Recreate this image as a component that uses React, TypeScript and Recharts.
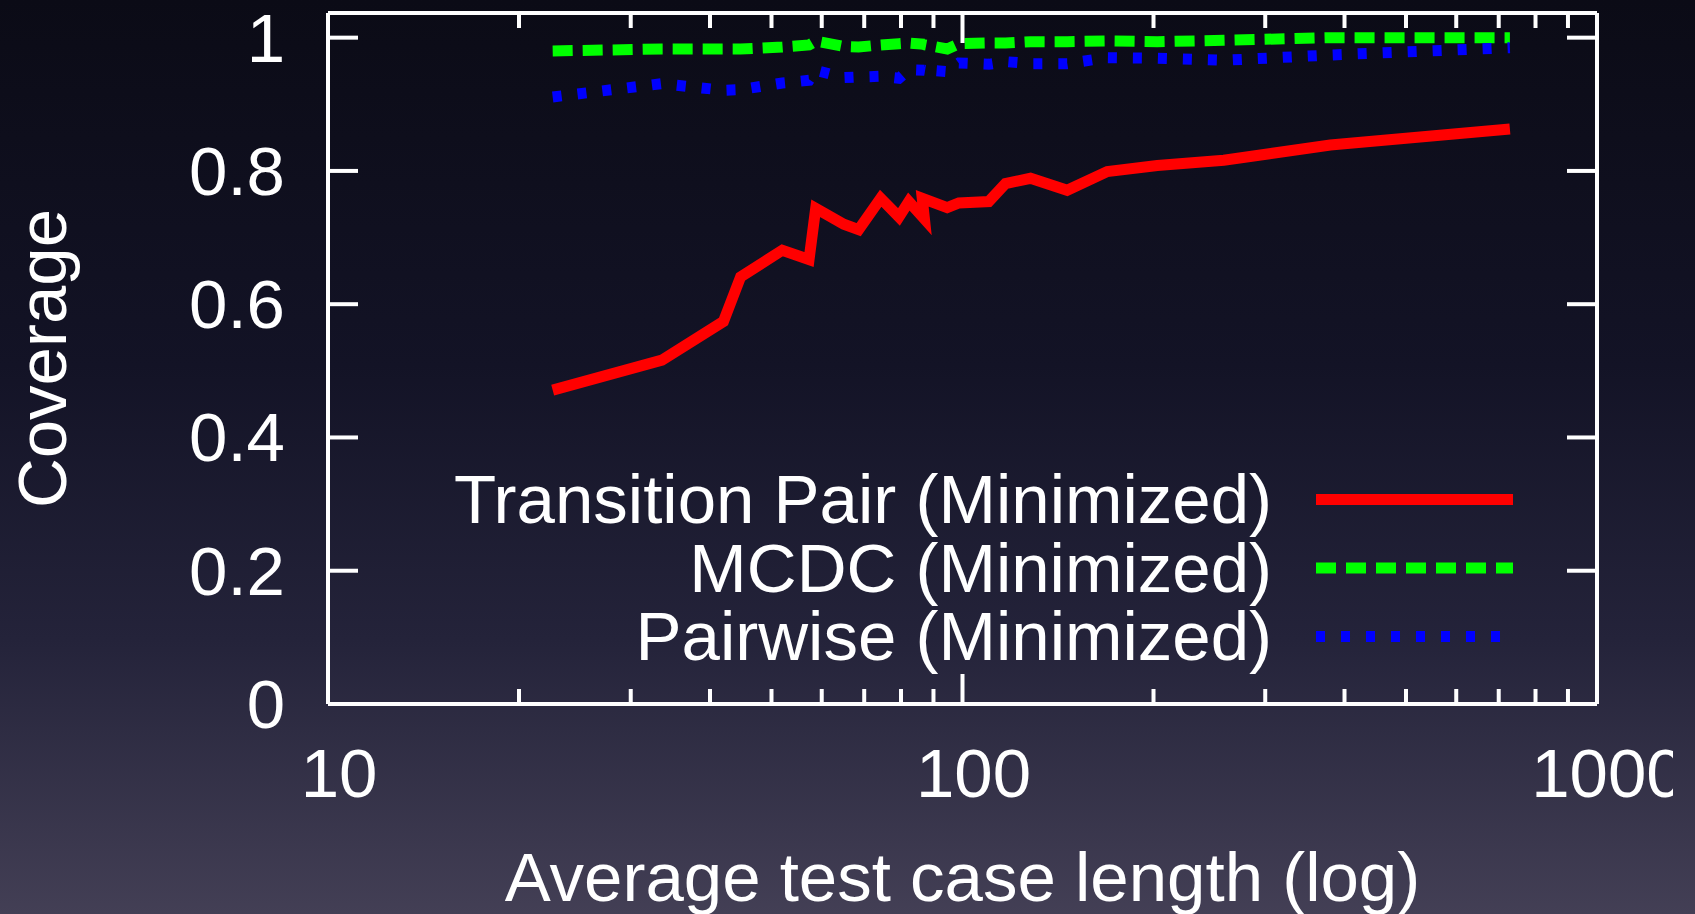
import React from "react";
import { LineChart, Line, XAxis, YAxis, Legend } from "recharts";

// average test case length (x, log scale)
const lengths = [
  22.6, 33.6, 42.0, 44.7, 52.0, 57.3, 58.7, 65.0, 68.6, 74.3, 79.4, 82.3, 87.1,
  86.4, 94.6, 98.7, 110, 116.9, 128, 146.2, 169.1, 202.8, 258.1, 380, 729,
];

const transitionPair = [
  0.471, 0.516, 0.574, 0.641, 0.681, 0.667, 0.744, 0.72, 0.712, 0.759, 0.731,
  0.754, 0.728, 0.759, 0.745, 0.752, 0.754, 0.781, 0.789, 0.771, 0.799, 0.808,
  0.816, 0.839, 0.863,
];

const mcdc = [
  0.98, 0.983, 0.983, 0.983, 0.986, 0.989, 0.995, 0.987, 0.986, 0.989, 0.991,
  0.992, 0.99, 0.99, 0.983, 0.991, 0.992, 0.992, 0.994, 0.994, 0.995, 0.994,
  0.996, 1.0, 1.0,
];

const pairwise = [
  0.911, 0.931, 0.921, 0.922, 0.932, 0.936, 0.951, 0.94, 0.941, 0.942, 0.939,
  0.952, 0.951, 0.952, 0.949, 0.962, 0.96, 0.964, 0.961, 0.961, 0.97, 0.969,
  0.966, 0.974, 0.985,
];

const xTicks = [
  10, 20, 30, 40, 50, 60, 70, 80, 90, 100, 200, 300, 400, 500, 600, 700, 800,
  900, 1000,
];
const xLabels = [10, 100, 1000];
const yTicks = [0, 0.2, 0.4, 0.6, 0.8, 1];

const seriesNames = [
  "Transition Pair (Minimized)",
  "MCDC (Minimized)",
  "Pairwise (Minimized)",
];
const seriesKeys = ["tp", "mcdc", "pw"];
const seriesColors = ["#ff0000", "#00ff00", "#0000ff"];
const seriesDash = [undefined, "20 10", "9 16"];

const rows = lengths.map((len, i) => ({
  len,
  tp: transitionPair[i],
  mcdc: mcdc[i],
  pw: pairwise[i],
}));

const FONT = '"Liberation Sans", Arial, Helvetica, sans-serif';
const WHITE = "#ffffff";

const BottomTick = ({ x, y, payload }: any) => {
  const major = xLabels.includes(payload.value);
  return (
    <g>
      <line x1={x} x2={x} y1={y} y2={y - (major ? 30 : 15)} stroke={WHITE} strokeWidth={4} />
      {major && (
        <text x={x + 11} y={y + 93} textAnchor="middle" fill={WHITE} fontSize={69} fontFamily={FONT}>
          {payload.value}
        </text>
      )}
    </g>
  );
};

const TopTick = ({ x, y, payload }: any) => {
  const major = xLabels.includes(payload.value);
  return <line x1={x} x2={x} y1={y} y2={y + (major ? 30 : 15)} stroke={WHITE} strokeWidth={4} />;
};

const LeftTick = ({ x, y, payload }: any) => (
  <g>
    <line x1={x} x2={x + 30} y1={y} y2={y} stroke={WHITE} strokeWidth={4} />
    <text x={x - 43} y={y + 24} textAnchor="end" fill={WHITE} fontSize={69} fontFamily={FONT}>
      {payload.value}
    </text>
  </g>
);

const RightTick = ({ x, y }: any) => (
  <line x1={x} x2={x - 30} y1={y} y2={y} stroke={WHITE} strokeWidth={4} />
);

const XTitle = ({ viewBox }: any) => (
  <text
    x={viewBox.x + viewBox.width / 2}
    y={viewBox.y + 197}
    textAnchor="middle"
    fill={WHITE}
    fontSize={69}
    fontFamily={FONT}
  >
    Average test case length (log)
  </text>
);

const YTitle = ({ viewBox }: any) => {
  const cx = 66;
  const cy = viewBox.y + viewBox.height / 2;
  return (
    <text
      x={cx}
      y={cy}
      transform={`rotate(-90 ${cx} ${cy})`}
      textAnchor="middle"
      fill={WHITE}
      fontSize={69}
      fontFamily={FONT}
    >
      Coverage
    </text>
  );
};

const LegendBox = () => (
  <svg width={1673} height={240} style={{ display: "block", overflow: "visible" }}>
    {seriesNames.map((name, i) => {
      const ly = 59.5 + i * 68.5;
      return (
        <g key={name}>
          <text x={1272} y={ly + 23.5} textAnchor="end" fill={WHITE} fontSize={69} fontFamily={FONT}>
            {name}
          </text>
          <line
            x1={1316}
            x2={1513}
            y1={ly}
            y2={ly}
            stroke={seriesColors[i]}
            strokeWidth={11}
            strokeDasharray={seriesDash[i]}
          />
        </g>
      );
    })}
  </svg>
);

const frameLine = { stroke: WHITE, strokeWidth: 4 };

const App = () => (
  <div
    style={{
      position: "fixed",
      left: 0,
      top: 0,
      width: 1695,
      height: 914,
      overflow: "hidden",
      background: "linear-gradient(to bottom, #0b0b16 0%, #131326 40%, #24233a 70%, #433f55 100%)",
    }}
  >
    <LineChart width={1673} height={914} data={rows} margin={{ top: 12, right: 75, bottom: 0, left: 0 }}>
      <XAxis
        dataKey="len"
        type="number"
        scale="log"
        domain={[10, 1000]}
        allowDataOverflow
        ticks={xTicks}
        interval={0}
        height={210}
        tickSize={0}
        tickMargin={0}
        tickLine={false}
        axisLine={frameLine}
        tick={(p: any) => <BottomTick {...p} />}
        label={(p: any) => <XTitle {...p} />}
      />
      <XAxis
        xAxisId="top"
        orientation="top"
        dataKey="len"
        type="number"
        scale="log"
        domain={[10, 1000]}
        allowDataOverflow
        ticks={xTicks}
        interval={0}
        height={1}
        tickSize={0}
        tickMargin={0}
        tickLine={false}
        axisLine={frameLine}
        tick={(p: any) => <TopTick {...p} />}
      />
      <YAxis
        type="number"
        domain={[0, 1.037]}
        allowDataOverflow
        ticks={yTicks}
        interval={0}
        width={328}
        tickSize={0}
        tickMargin={0}
        tickLine={false}
        axisLine={frameLine}
        tick={(p: any) => <LeftTick {...p} />}
        label={(p: any) => <YTitle {...p} />}
      />
      <YAxis
        yAxisId="right"
        orientation="right"
        type="number"
        domain={[0, 1.037]}
        allowDataOverflow
        ticks={yTicks}
        interval={0}
        width={1}
        tickSize={0}
        tickMargin={0}
        tickLine={false}
        axisLine={frameLine}
        tick={(p: any) => <RightTick {...p} />}
      />
      <Legend
        layout="vertical"
        align="center"
        verticalAlign="middle"
        wrapperStyle={{ left: 0, top: 440, width: 1673, height: 240 }}
        content={() => <LegendBox />}
      />
      {seriesKeys.map((key, i) => (
        <Line
          key={key}
          dataKey={key}
          name={seriesNames[i]}
          type="linear"
          stroke={seriesColors[i]}
          strokeWidth={11}
          strokeDasharray={seriesDash[i]}
          strokeLinejoin="miter"
          strokeLinecap="butt"
          dot={false}
          activeDot={false}
          isAnimationActive={false}
        />
      ))}
    </LineChart>
  </div>
);

export default App;
